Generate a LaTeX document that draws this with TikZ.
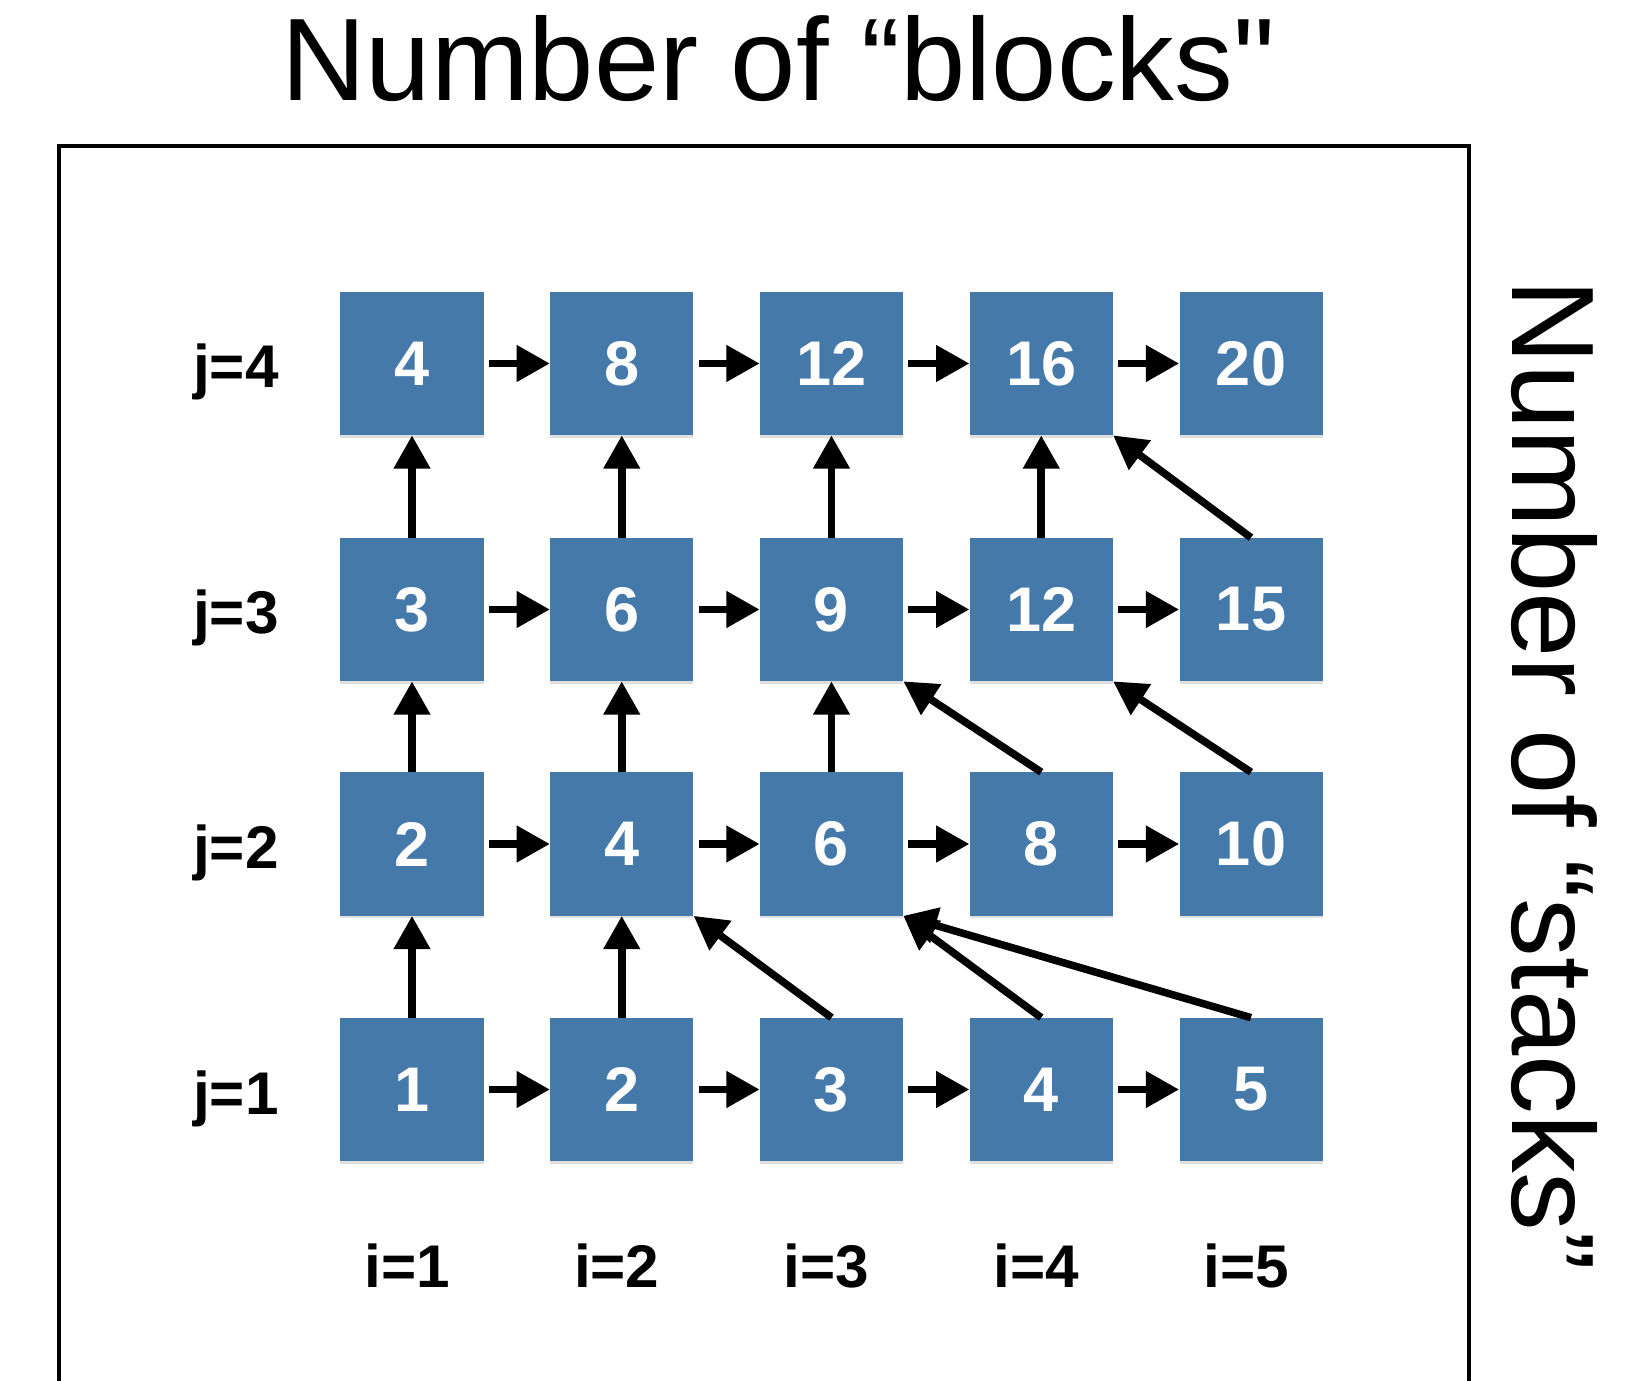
\documentclass[tikz,border=0pt]{standalone}
\usepackage{fontspec}
\setmainfont{Liberation Sans}
\newfontfamily\rawsans{Liberation Sans}
\usetikzlibrary{arrows.meta,shadows}
\definecolor{boxblue}{RGB}{68,121,170}
\begin{document}
\begin{tikzpicture}[x=0.02cm,y=-0.02cm,
  cell/.style={fill=boxblue, draw=none, minimum size=81.4pt, inner sep=0pt,
    text=white, font=\fontsize{35.9pt}{40pt}\selectfont\bfseries,
    drop shadow={shadow xshift=0pt, shadow yshift=-1.5pt, opacity=0.25}},
  lab/.style={inner sep=0pt, font=\fontsize{34.3pt}{38pt}\selectfont\bfseries},
  bigtext/.style={inner sep=0pt, font=\rawsans\fontsize{66.8pt}{72pt}\selectfont},
  arr/.style={line width=4.3pt, -{Triangle[length=19pt,width=20pt]}},
  frameline/.style={line width=1.8pt}]
\useasboundingbox (0,0) rectangle (1630,1381);
\fill[white] (0,0) rectangle (1630,1381);

% title and side label
\node[bigtext, anchor=base] (title) at (778,101) {Number of “blocks"};
\node[bigtext, anchor=base west, rotate=-90] (side) at (1512,279) {Number of “stacks”};

% frame (open at the bottom)
\coordinate (fbl) at (59,1381);
\coordinate (ftl) at (59,146);
\coordinate (ftr) at (1469,146);
\coordinate (fbr) at (1469,1381);
\draw[frameline] (fbl) -- (ftl) -- (ftr) -- (fbr);

% cells
\foreach \j/\y in {1/1089.5,2/844,3/609.5,4/363.5}{
  \foreach \i in {1,...,5}{
    \pgfmathsetmacro{\xx}{412+209.75*(\i-1)}
    \pgfmathtruncatemacro{\v}{\i*\j}
    \node[cell] (b\i\j) at (\xx,\y) {\v};
  }
  \node[lab, anchor=base east] (j\j) at (279,\y+24.5) {j=\j};
}
\foreach \i in {1,...,5}{
  \pgfmathsetmacro{\xx}{412+209.75*(\i-1)-5}
  \node[lab, anchor=base] (i\i) at (\xx,1287) {i=\i};
}

% horizontal arrows
\foreach \j in {1,...,4}{
  \foreach \i in {1,...,4}{
    \pgfmathtruncatemacro{\k}{\i+1}
    \draw[arr, shorten <=2.8pt] (b\i\j.east) -- (b\k\j.west);
  }
}

% vertical arrows
\foreach \i/\j in {1/1,1/2,1/3,2/1,2/2,2/3,3/2,3/3,4/3}{
  \pgfmathtruncatemacro{\k}{\j+1}
  \draw[arr] (b\i\j.north) -- (b\i\k.south);
}

% diagonal arrows
\draw[arr] (b31.north) -- (b22.south east);
\draw[arr] (b41.north) -- (b32.south east);
\draw[arr] (b51.north) -- (b32.south east);
\draw[arr] (b42.north) -- (b33.south east);
\draw[arr] (b52.north) -- (b43.south east);
\draw[arr] (b53.north) -- (b44.south east);
\end{tikzpicture}
\end{document}
